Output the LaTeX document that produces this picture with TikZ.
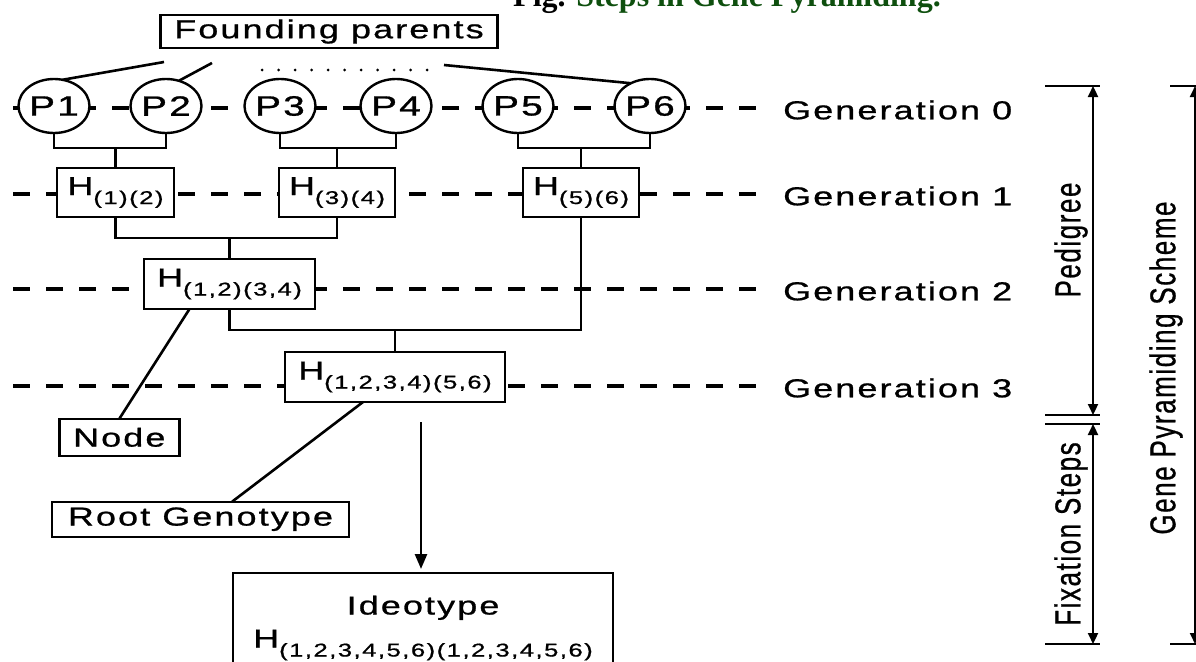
\documentclass[tikz,border=0pt]{standalone}
\usepackage{fontspec}
\setmainfont{Liberation Sans}
\newfontfamily\labfont{Liberation Sans}[LetterSpace=6,FakeBold=0.8]
\newfontfamily\titlefont{Liberation Serif}
\usetikzlibrary{shapes.geometric,arrows.meta}
\definecolor{titlegreen}{HTML}{0E4F0E}
% horizontally widened lettering, and its rotated counterpart
\newcommand{\wide}[1]{\scalebox{1.38}[1]{#1}}
\newcommand{\tall}[1]{\scalebox{1}[1.38]{#1}}
% genotype label: H with a lowered index
\newcommand{\Hsub}[1]{H\raisebox{-9pt}{\fontsize{18.5}{18.5}\selectfont #1}}

\begin{document}
\begin{tikzpicture}[x=1pt,y=-1pt,
  lab/.style={font=\labfont\fontsize{26}{30}\selectfont, inner sep=0pt},
  box/.style={draw, line width=2.4pt, fill=white, inner sep=0pt, outer sep=0pt,
              font=\labfont\fontsize{26}{30}\selectfont},
  parent/.style={ellipse, draw, line width=2.4pt, fill=white, inner sep=0pt, outer sep=0pt,
              minimum width=71pt, minimum height=54pt, font=\labfont\fontsize{28}{30}\selectfont},
  link/.style={line width=2.6pt},
  genline/.style={line width=4.5pt, dash pattern=on 17pt off 16pt},
  tick/.style={line width=2.2pt},
  span/.style={line width=2.2pt, {Triangle[length=11pt,width=10pt]}-{Triangle[length=11pt,width=10pt]}},
]
\useasboundingbox (0,0) rectangle (1196,661);
\clip (0,0) rectangle (1196,661);

% caption
\node[anchor=base west, inner sep=0pt, font=\titlefont\bfseries\fontsize{32}{36}\selectfont]
  (title) at (513,7) {Fig. \textcolor{titlegreen}{Steps in Gene Pyramiding.}};

% generation guide lines and their labels
\foreach \n/\y in {0/108,1/194,2/289,3/386} {
  \coordinate (gs\n) at (13,\y);
  \coordinate (ge\n) at (756,\y);
  \draw[genline] (gs\n) -- (ge\n);
  \node[lab, anchor=west] (gen\n) at (783,\y+2) {\wide{Generation \n}};
}

% founding parents
\node[box, minimum width=337pt, minimum height=33pt] (fp) at (329,31.5) {\wide{Founding parents}};
\foreach \i/\x in {1/54,2/166,3/280,4/396,5/518,6/650}
  \node[parent] (P\i) at (\x,106) {\wide{P\i}};

\coordinate (fa) at (164,62);
\coordinate (fb) at (212,63);
\coordinate (fc) at (444,65);
\draw[link] (fa) -- (P1.72);
\draw[link] (fb) -- (P2.63);
\draw[link] (fc) -- (P6.130);
\coordinate (d0) at (262,70);
\coordinate (d1) at (430,70);
\draw[line width=3pt, line cap=round, dash pattern=on 0pt off 16.5pt] (d0) -- (d1);

% generation 1
\node[box, minimum width=117pt, minimum height=49pt] (H12) at (115.5,192.5) {\wide{\Hsub{(1)(2)}}};
\node[box, minimum width=116pt, minimum height=49pt] (H34) at (337,192.5) {\wide{\Hsub{(3)(4)}}};
\node[box, minimum width=116pt, minimum height=49pt] (H56) at (581,192.5) {\wide{\Hsub{(5)(6)}}};

% generation 2 and 3
\node[box, minimum width=171pt, minimum height=50pt] (H1234) at (229.5,284) {\wide{\Hsub{(1,2)(3,4)}}};
\node[box, minimum width=220pt, minimum height=50pt] (Hall) at (395,377) {\wide{\Hsub{(1,2,3,4)(5,6)}}};

% crosses
\coordinate (j12) at (115.5,148);
\coordinate (j34) at (337,148);
\coordinate (j56) at (581,148);
\draw[link] (P1.south) |- (j12) -| (P2.south);
\draw[link] (j12) -- (H12.north);
\draw[link] (P3.south) |- (j34) -| (P4.south);
\draw[link] (j34) -- (H34.north);
\draw[link] (P5.south) |- (j56) -| (P6.south);
\draw[link] (j56) -- (H56.north);
\coordinate (j1234) at (229.5,238);
\draw[link] (H12.south) |- (j1234) -| (H34.south);
\draw[link] (j1234) -- (H1234.north);
\coordinate (jall) at (395,330);
\draw[link] (H1234.south) |- (jall) -| (H56.south);
\draw[link] (jall) -- (Hall.north);

% callouts
\node[box, minimum width=120pt, minimum height=37pt] (node) at (119.3,437.3) {\wide{Node}};
\node[box, minimum width=297pt, minimum height=35pt] (root) at (200.5,519.2) {\wide{Root Genotype}};
\draw[link] (node.north) -- (H1234.212);
\draw[link] (root.29) -- (Hall.218);

% fixation to the ideotype
\node[box, anchor=north, minimum width=380pt, minimum height=110pt, align=center] (ideo) at (423,573)
  {\wide{Ideotype}\\[3pt]\wide{\Hsub{(1,2,3,4,5,6)(1,2,3,4,5,6)}}};
\coordinate (ar) at (421,422);
\draw[link, -{Triangle[length=15pt,width=12pt]}, shorten >=4pt] (ar) -- (ar |- ideo.north);

% spans on the right
\coordinate (pt0) at (1045,86);   \coordinate (pt1) at (1100,86);
\coordinate (pm0) at (1045,415);  \coordinate (pm1) at (1100,415);
\coordinate (pn0) at (1045,424);  \coordinate (pn1) at (1100,424);
\coordinate (pb0) at (1045,644);  \coordinate (pb1) at (1100,644);
\draw[tick] (pt0) -- (pt1);
\draw[tick] (pm0) -- (pm1);
\draw[tick] (pn0) -- (pn1);
\draw[tick] (pb0) -- (pb1);
\coordinate (pa) at (1093,86);  \coordinate (pb) at (1093,415);
\coordinate (fx0) at (1093,424); \coordinate (fx1) at (1093,644);
\draw[span] (pa) -- (pb);
\draw[span] (fx0) -- (fx1);
\node[lab, rotate=90] (ped) at (1071,240) {\tall{Pedigree}};
\node[lab, rotate=90] (fix) at (1071,534) {\tall{Fixation Steps}};

\coordinate (gt0) at (1170,86);  \coordinate (gt1) at (1200,86);
\coordinate (gb0) at (1170,644); \coordinate (gb1) at (1200,644);
\draw[tick] (gt0) -- (gt1);
\draw[tick] (gb0) -- (gb1);
\coordinate (ga) at (1195,86);  \coordinate (gb) at (1195,644);
\draw[span] (ga) -- (gb);
\node[lab, rotate=90] (gps) at (1166,368) {\tall{Gene Pyramiding Scheme}};
\end{tikzpicture}
\end{document}
